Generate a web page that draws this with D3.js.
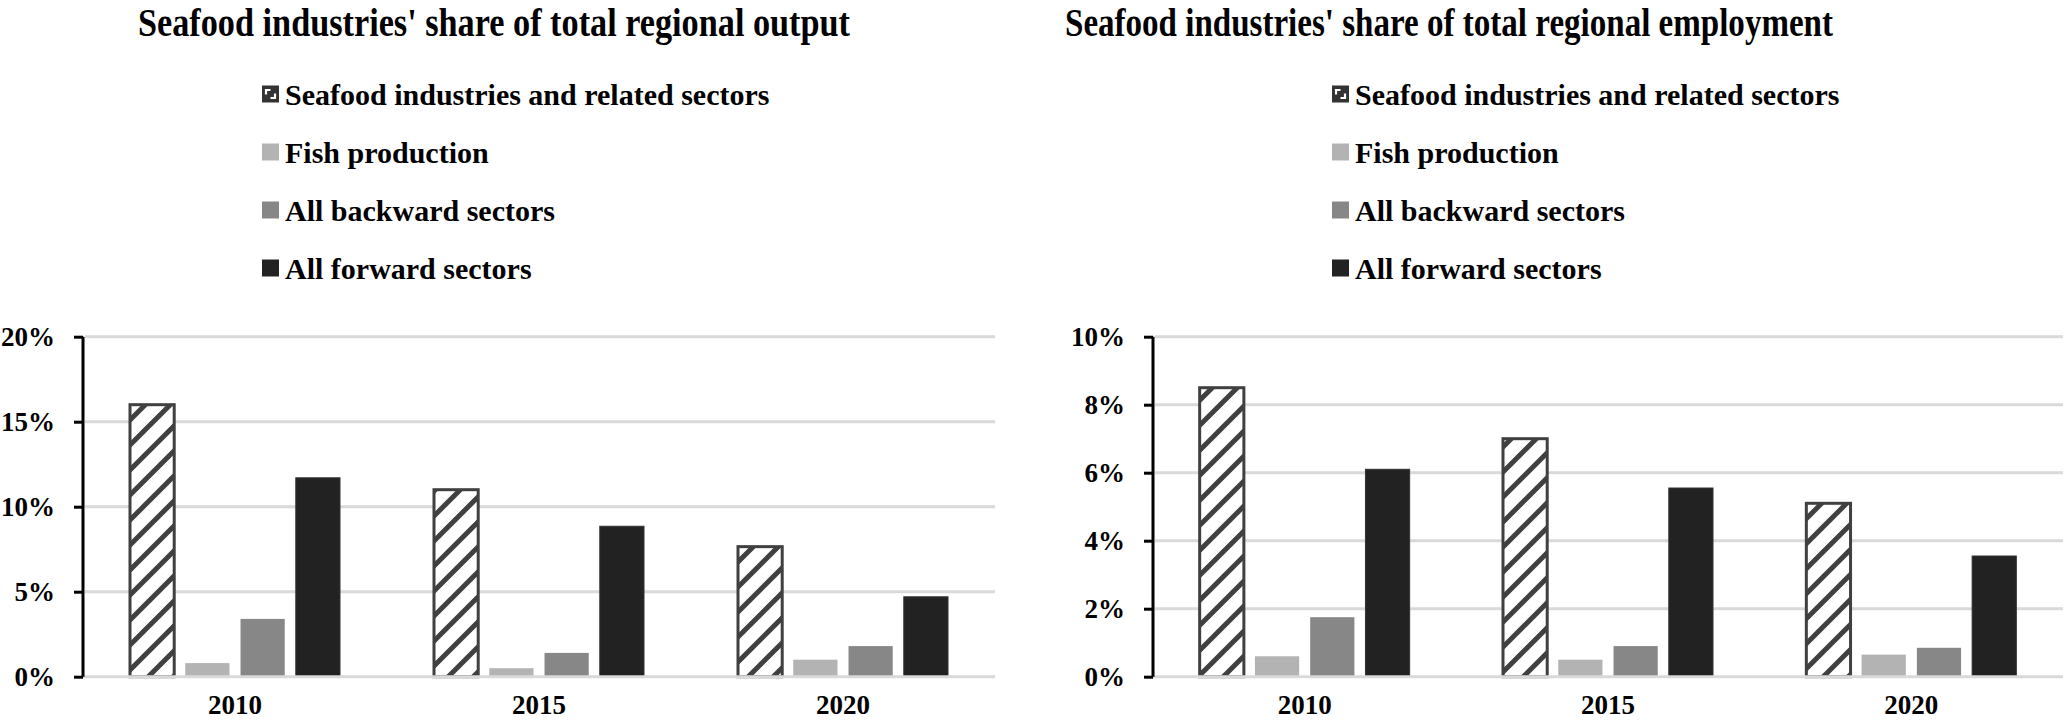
<!DOCTYPE html>
<html>
<head>
<meta charset="utf-8">
<script src="https://cdn.jsdelivr.net/npm/d3@7/dist/d3.min.js"></script>
<style>
  html, body { margin: 0; padding: 0; background: #fff; }
  svg { display: block; }
  text { font-family: "Liberation Serif", "Times New Roman", serif; font-weight: bold; fill: #000; }
</style>
</head>
<body>
<svg id="chart" width="2067" height="723"></svg>
<script>
// ---- data ----
const categories = ["2010", "2015", "2020"];
const seriesNames = ["Seafood industries and related sectors", "Fish production", "All backward sectors", "All forward sectors"];
const seriesKeys = ["seafood", "fish", "backward", "forward"];

const outputSeafood = [16.0, 11.0, 7.65];
const outputFish = [0.8, 0.5, 1.0];
const outputBackward = [3.4, 1.4, 1.8];
const outputForward = [11.7, 8.85, 4.7];

const empSeafood = [8.5, 7.0, 5.1];
const empFish = [0.6, 0.5, 0.65];
const empBackward = [1.75, 0.9, 0.85];
const empForward = [6.1, 5.55, 3.55];

const outputTicks = [0, 5, 10, 15, 20];
const empTicks = [0, 2, 4, 6, 8, 10];

const titleOutput = "Seafood industries' share of total regional output";
const titleEmp = "Seafood industries' share of total regional employment";

// ---- styles ----
const fills = { seafood: "url(#hatch)", fish: "#b3b3b3", backward: "#878787", forward: "#222222" };

const svg = d3.select("#chart");
const defs = svg.append("defs");
const pat = defs.append("pattern")
  .attr("id", "hatch").attr("patternUnits", "userSpaceOnUse")
  .attr("width", 25).attr("height", 25);
pat.append("rect").attr("width", 25).attr("height", 25).attr("fill", "#fff");
pat.append("path")
  .attr("d", "M-5,30 L30,-5 M-5,5 L5,-5 M20,30 L30,20")
  .attr("stroke", "#404040").attr("stroke-width", 5);

function drawPanel(opt) {
  const g = svg.append("g");
  const x0 = opt.axisX, x1 = opt.rightX;
  const y = d3.scaleLinear().domain([0, opt.max]).range([676.7, 336.7]);
  const xBand = d3.scaleBand().domain(categories).range([x0, x1]).padding(0);
  const groupW = 210;
  const xInner = d3.scaleBand().domain(seriesKeys).range([0, groupW]).paddingInner(0.2);

  // title
  g.append("text")
    .attr("x", opt.titleX).attr("y", 36)
    .attr("font-size", 41)
    .attr("textLength", opt.titleLen).attr("lengthAdjust", "spacingAndGlyphs")
    .text(opt.title);

  // legend
  seriesKeys.forEach((k, i) => {
    const ly = 94 + i * 58;
    const lx = opt.legendX;
    if (k === "seafood") {
      g.append("rect").attr("x", lx).attr("y", ly - 8.5).attr("width", 17).attr("height", 17).attr("fill", "#333");
      g.append("path").attr("d", `M${lx+4},${ly+0.5} L${lx+4},${ly-4} L${lx+8.5},${ly-4}`)
        .attr("stroke", "#fff").attr("stroke-width", 2.2).attr("fill", "none");
      g.append("path").attr("d", `M${lx+8.5},${ly+4} L${lx+13},${ly+4} L${lx+13},${ly-0.5}`)
        .attr("stroke", "#fff").attr("stroke-width", 2.2).attr("fill", "none");
    } else {
      g.append("rect").attr("x", lx).attr("y", ly - 8.5).attr("width", 17).attr("height", 17).attr("fill", fills[k]);
    }
    g.append("text").attr("x", lx + 23).attr("y", ly).attr("dy", "0.35em")
      .attr("font-size", 30).text(seriesNames[i]);
  });

  // gridlines
  g.append("g").selectAll("line").data(opt.ticks.filter(t => t > 0)).join("line")
    .attr("x1", x0 + 2).attr("x2", x1)
    .attr("y1", d => y(d)).attr("y2", d => y(d))
    .attr("stroke", "#d9d9d9").attr("stroke-width", 3);

  // bars
  const seriesData = [opt.seafood, opt.fish, opt.backward, opt.forward];
  seriesKeys.forEach((k, si) => {
    g.append("g").selectAll("rect").data(categories).join("rect")
      .attr("x", c => xBand(c) + xBand.bandwidth() / 2 - groupW / 2 + xInner(k))
      .attr("width", xInner.bandwidth())
      .attr("y", (c, i) => y(seriesData[si][i]))
      .attr("height", (c, i) => y(0) - y(seriesData[si][i]))
      .attr("fill", fills[k])
      .attr("stroke", k === "seafood" ? "#404040" : (k === "forward" ? "#333" : "none"))
      .attr("stroke-width", k === "seafood" ? 3 : 1);
  });

  // x baseline
  g.append("line").attr("x1", x0).attr("x2", x1).attr("y1", y(0)).attr("y2", y(0))
    .attr("stroke", "#d9d9d9").attr("stroke-width", 3);

  // y axis
  const yAxis = d3.axisLeft(y).tickValues(opt.ticks).tickSize(9).tickPadding(19)
    .tickFormat(d => d + "%");
  const ya = g.append("g").attr("transform", `translate(${x0},0)`).call(yAxis);
  ya.select(".domain").attr("stroke", "#000").attr("stroke-width", 3)
    .attr("d", `M0,${y(opt.max)}V${y(0)}`);
  ya.selectAll(".tick line").attr("stroke", "#000").attr("stroke-width", 3);
  ya.selectAll(".tick text").attr("font-size", 27).attr("fill", "#000")
    .attr("font-family", "Liberation Serif, serif").attr("font-weight", "bold");

  // x axis labels
  const xAxis = d3.axisBottom(xBand).tickSize(0).tickPadding(18);
  const xa = g.append("g").attr("transform", `translate(0,${y(0)})`).call(xAxis);
  xa.select(".domain").remove();
  xa.selectAll(".tick text").attr("font-size", 27).attr("fill", "#000")
    .attr("font-family", "Liberation Serif, serif").attr("font-weight", "bold");
}

drawPanel({
  axisX: 83, rightX: 995, max: 20, ticks: outputTicks,
  seafood: outputSeafood, fish: outputFish, backward: outputBackward, forward: outputForward,
  title: titleOutput, titleX: 138, titleLen: 712, legendX: 262
});
drawPanel({
  axisX: 1153, rightX: 2063, max: 10, ticks: empTicks,
  seafood: empSeafood, fish: empFish, backward: empBackward, forward: empForward,
  title: titleEmp, titleX: 1065, titleLen: 768, legendX: 1332
});
</script>
</body>
</html>
